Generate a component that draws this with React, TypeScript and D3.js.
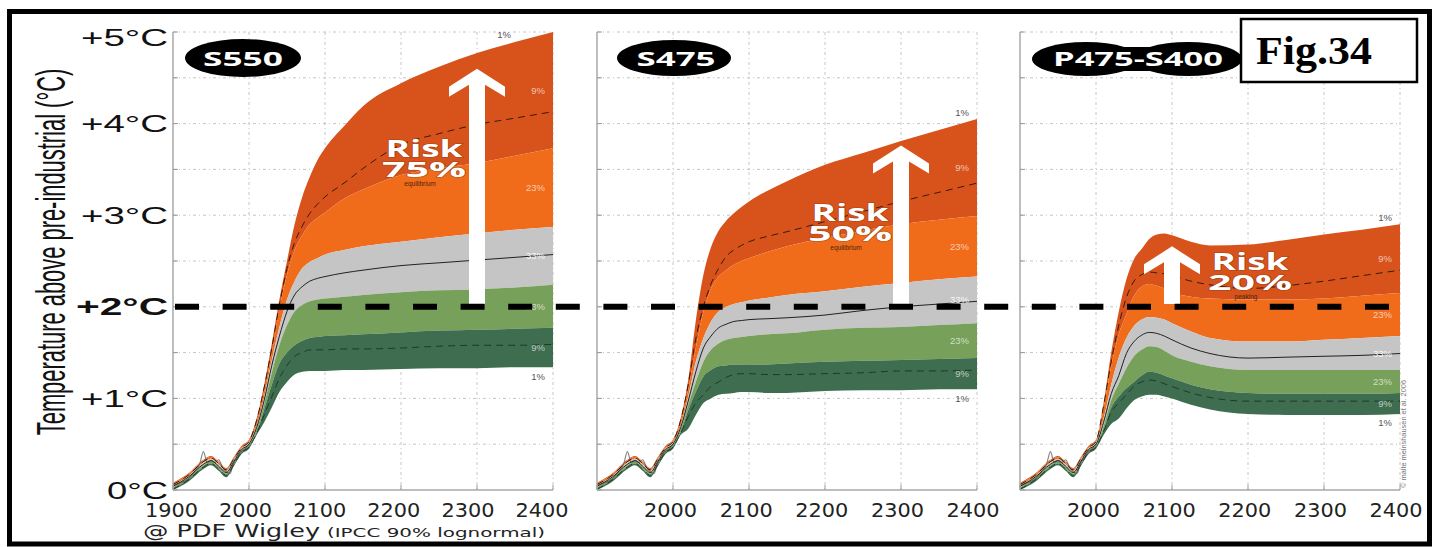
import React from "react";
import * as d3 from "d3";

// ---------- DATA ----------
const histYears = [1900, 1920, 1940, 1950, 1960, 1970, 1980, 1990, 2000];
const futureYears = [2010, 2020, 2030, 2040, 2050, 2060, 2070, 2080, 2090, 2100, 2125, 2150, 2200, 2250, 2300, 2350, 2400];
const years = [...histYears, ...futureYears];

// shared historical part of every boundary (°C)
const histTop = [0.08, 0.18, 0.33, 0.37, 0.31, 0.24, 0.36, 0.48, 0.55];
const histUpper = [0.07, 0.17, 0.32, 0.36, 0.30, 0.23, 0.35, 0.47, 0.54];
const histUpperDash = [0.06, 0.16, 0.31, 0.35, 0.29, 0.22, 0.34, 0.46, 0.53];
const histGrayTop = [0.05, 0.15, 0.30, 0.34, 0.28, 0.21, 0.33, 0.45, 0.52];
const histMedian = [0.04, 0.14, 0.28, 0.32, 0.26, 0.19, 0.31, 0.44, 0.50];
const histGrayBottom = [0.03, 0.13, 0.27, 0.31, 0.25, 0.18, 0.30, 0.43, 0.49];
const histLower = [0.02, 0.11, 0.25, 0.29, 0.23, 0.16, 0.28, 0.41, 0.48];
const histLowerDash = [0.01, 0.11, 0.25, 0.29, 0.23, 0.16, 0.28, 0.41, 0.47];
const histBottom = [0.0, 0.09, 0.23, 0.27, 0.21, 0.14, 0.26, 0.39, 0.45];

// observed record
const obsYears = [1900, 1910, 1920, 1930, 1935, 1940, 1945, 1950, 1955, 1960, 1965, 1970, 1975, 1980, 1985, 1990, 1995, 2000];
const obsTemp = [0.05, 0.08, 0.12, 0.22, 0.28, 0.42, 0.30, 0.32, 0.30, 0.33, 0.25, 0.20, 0.18, 0.30, 0.35, 0.42, 0.45, 0.50];

// S550
const s550Top = [0.78, 1.15, 1.6, 2.08, 2.5, 2.9, 3.2, 3.42, 3.6, 3.73, 3.97, 4.19, 4.44, 4.62, 4.77, 4.89, 5.0];
const s550Upper = [0.74, 1.08, 1.5, 1.98, 2.35, 2.62, 2.78, 2.9, 2.97, 3.03, 3.18, 3.28, 3.44, 3.51, 3.57, 3.65, 3.73];
const s550UpperDash = [0.76, 1.12, 1.55, 2.02, 2.42, 2.7, 2.88, 3.02, 3.12, 3.2, 3.35, 3.51, 3.77, 3.89, 3.99, 4.06, 4.13];
const s550GrayTop = [0.70, 1.02, 1.42, 1.78, 2.08, 2.28, 2.42, 2.49, 2.53, 2.57, 2.62, 2.66, 2.71, 2.76, 2.80, 2.84, 2.87];
const s550Median = [0.68, 0.98, 1.36, 1.68, 1.95, 2.13, 2.22, 2.28, 2.31, 2.33, 2.37, 2.40, 2.45, 2.48, 2.51, 2.54, 2.57];
const s550GrayBottom = [0.66, 0.94, 1.28, 1.58, 1.80, 1.95, 2.02, 2.06, 2.08, 2.09, 2.11, 2.13, 2.16, 2.18, 2.19, 2.21, 2.24];
const s550Lower = [0.63, 0.88, 1.15, 1.38, 1.50, 1.58, 1.63, 1.66, 1.67, 1.68, 1.69, 1.70, 1.72, 1.74, 1.75, 1.76, 1.77];
const s550LowerDash = [0.62, 0.82, 1.02, 1.22, 1.36, 1.46, 1.50, 1.53, 1.53, 1.53, 1.54, 1.54, 1.55, 1.57, 1.58, 1.58, 1.59];
const s550Bottom = [0.60, 0.74, 0.90, 1.07, 1.18, 1.26, 1.29, 1.30, 1.30, 1.30, 1.31, 1.31, 1.32, 1.33, 1.33, 1.34, 1.34];

// S475
const s475Top = [0.78, 1.2, 1.85, 2.35, 2.65, 2.83, 2.94, 3.02, 3.09, 3.15, 3.27, 3.37, 3.55, 3.68, 3.81, 3.93, 4.05];
const s475Upper = [0.74, 1.1, 1.55, 1.95, 2.2, 2.33, 2.4, 2.46, 2.5, 2.53, 2.6, 2.66, 2.75, 2.83, 2.9, 2.95, 2.99];
const s475UpperDash = [0.76, 1.15, 1.65, 2.0, 2.25, 2.42, 2.55, 2.62, 2.67, 2.71, 2.77, 2.82, 2.93, 3.04, 3.15, 3.25, 3.35];
const s475GrayTop = [0.70, 1.02, 1.40, 1.66, 1.84, 1.95, 2.00, 2.03, 2.05, 2.07, 2.10, 2.13, 2.17, 2.22, 2.26, 2.30, 2.33];
const s475Median = [0.68, 0.97, 1.29, 1.55, 1.68, 1.77, 1.81, 1.84, 1.85, 1.86, 1.87, 1.88, 1.91, 1.96, 2.00, 2.03, 2.06];
const s475GrayBottom = [0.66, 0.93, 1.18, 1.40, 1.53, 1.60, 1.64, 1.66, 1.67, 1.68, 1.70, 1.71, 1.75, 1.77, 1.78, 1.80, 1.82];
const s475Lower = [0.63, 0.87, 1.07, 1.24, 1.31, 1.35, 1.36, 1.37, 1.37, 1.37, 1.37, 1.38, 1.40, 1.41, 1.42, 1.43, 1.44];
const s475LowerDash = [0.62, 0.80, 0.95, 1.04, 1.13, 1.18, 1.23, 1.26, 1.27, 1.27, 1.26, 1.26, 1.27, 1.28, 1.30, 1.30, 1.31];
const s475Bottom = [0.60, 0.67, 0.82, 0.95, 1.00, 1.04, 1.05, 1.06, 1.07, 1.07, 1.06, 1.06, 1.08, 1.09, 1.09, 1.10, 1.10];

// P475-S400
const p475Top = [0.95, 1.5, 1.95, 2.3, 2.52, 2.63, 2.74, 2.79, 2.80, 2.78, 2.71, 2.67, 2.68, 2.73, 2.79, 2.84, 2.90];
const p475Upper = [0.9, 1.35, 1.7, 1.92, 2.12, 2.22, 2.25, 2.23, 2.2, 2.16, 2.11, 2.09, 2.08, 2.08, 2.09, 2.12, 2.15];
const p475UpperDash = [0.92, 1.4, 1.8, 2.1, 2.28, 2.35, 2.38, 2.37, 2.36, 2.34, 2.28, 2.24, 2.2, 2.23, 2.28, 2.34, 2.40];
const p475GrayTop = [0.78, 1.15, 1.45, 1.66, 1.79, 1.86, 1.89, 1.88, 1.86, 1.82, 1.73, 1.66, 1.62, 1.62, 1.64, 1.66, 1.68];
const p475Median = [0.74, 1.05, 1.25, 1.49, 1.62, 1.69, 1.72, 1.71, 1.68, 1.64, 1.55, 1.49, 1.44, 1.45, 1.46, 1.47, 1.49];
const p475GrayBottom = [0.70, 0.98, 1.16, 1.33, 1.46, 1.53, 1.57, 1.56, 1.52, 1.47, 1.40, 1.35, 1.31, 1.31, 1.31, 1.31, 1.31];
const p475Lower = [0.66, 0.90, 1.02, 1.11, 1.18, 1.25, 1.29, 1.28, 1.25, 1.22, 1.15, 1.10, 1.06, 1.05, 1.05, 1.05, 1.06];
const p475LowerDash = [0.64, 0.85, 0.95, 1.04, 1.13, 1.18, 1.20, 1.19, 1.16, 1.13, 1.06, 1.01, 0.97, 0.97, 0.97, 0.97, 0.97];
const p475Bottom = [0.60, 0.72, 0.78, 0.89, 0.98, 1.02, 1.04, 1.04, 1.02, 1.00, 0.93, 0.88, 0.83, 0.82, 0.82, 0.82, 0.83];

const scenarioNames = ["S550", "S475", "P475-S400"];
const riskValues = ["75%", "50%", "20%"];
const riskNotes = ["equilibrium", "equilibrium", "peaking"];
const arrowYears = [2300, 2300, 2100];
const arrowTips = [4.6, 3.76, 2.66];
const bandLabels = ["1%", "9%", "23%", "33%", "23%", "9%", "1%"];
const yTickValues = [0, 1, 2, 3, 4, 5];
const yTickLabels = ["0°C", "+1°C", "+2°C", "+3°C", "+4°C", "+5°C"];
const xTickValues = [1900, 2000, 2100, 2200, 2300, 2400];

// ---------- LAYOUT ----------
const W = 1437;
const H = 547;
const Y_TOP = 32;
const Y_BOT = 490;
const PW = 380;
const panelX0 = [173, 597, 1020];
const riskCenters = [424, 850, 1250];
const riskBase = [157, 221, 270];

const COL = {
  darkOrange: "#d8531c",
  orange: "#f06c1a",
  gray: "#c5c5c5",
  lightGreen: "#77a15a",
  darkGreen: "#3e6d4f",
};

const series = [
  [s550Top, s550Upper, s550UpperDash, s550GrayTop, s550Median, s550GrayBottom, s550Lower, s550LowerDash, s550Bottom],
  [s475Top, s475Upper, s475UpperDash, s475GrayTop, s475Median, s475GrayBottom, s475Lower, s475LowerDash, s475Bottom],
  [p475Top, p475Upper, p475UpperDash, p475GrayTop, p475Median, p475GrayBottom, p475Lower, p475LowerDash, p475Bottom],
];
const hist = [histTop, histUpper, histUpperDash, histGrayTop, histMedian, histGrayBottom, histLower, histLowerDash, histBottom];

const y = d3.scaleLinear().domain([0, 5]).range([Y_BOT, Y_TOP]);

function arrowPath(cx: number, tip: number, base: number) {
  const hw = 28, sw = 8;
  const pts: [number, number][] = [
    [cx, tip], [cx + hw, tip + 18], [cx + hw, tip + 28], [cx + sw, tip + 16], [cx + sw, base],
    [cx - sw, base], [cx - sw, tip + 16], [cx - hw, tip + 28], [cx - hw, tip + 18],
  ];
  return d3.line()(pts) + "Z";
}

function Panel({ idx }: { idx: number }) {
  const x0 = panelX0[idx];
  const x = d3.scaleLinear().domain([1900, 2400]).range([x0, x0 + PW]);
  const s = series[idx].map((f, i) => [...hist[i], ...f]);
  const [top, upper, upperDash, grayTop, median, grayBottom, lower, lowerDash, bottom] = s;
  const area = (hi: number[], lo: number[]) =>
    d3.area<number>().x((_, i) => x(years[i])).y0((_, i) => y(lo[i])).y1((d) => y(d)).curve(d3.curveMonotoneX)(hi) || "";
  const line = (arr: number[]) =>
    d3.line<number>().x((_, i) => x(years[i])).y((d) => y(d)).curve(d3.curveMonotoneX)(arr) || "";
  const obsLine = d3.line<number>().x((_, i) => x(obsYears[i])).y((d) => y(d)).curve(d3.curveMonotoneX)(obsTemp) || "";
  const bands: [number[], number[], string][] = [
    [top, upper, COL.darkOrange],
    [upper, grayTop, COL.orange],
    [grayTop, grayBottom, COL.gray],
    [grayBottom, lower, COL.lightGreen],
    [lower, bottom, COL.darkGreen],
  ];
  const L = years.length - 1;
  const x1 = x(2400);
  const labelX = x1 - 8;
  const mids = [
    (top[L] + upper[L]) / 2,
    (upper[L] + grayTop[L]) / 2,
    (grayTop[L] + grayBottom[L]) / 2,
    (grayBottom[L] + lower[L]) / 2,
    (lower[L] + bottom[L]) / 2,
  ];
  const gridY = d3.range(0.5, 5.01, 0.5);
  const gridX = [2000, 2100, 2200, 2300, 2400];
  const labelScale = idx === 0
    ? d3.scaleLinear().domain([1900, 2400]).range([x0 - 1.5, x0 + 369])
    : d3.scaleLinear().domain([1900, 2400]).range([x0 - 2, x0 + PW - 4]);
  const ax = x(arrowYears[idx]);
  const rc = riskCenters[idx];
  const rb = riskBase[idx];
  const outline = { stroke: "rgba(60,30,10,0.35)", strokeWidth: 1.2, paintOrder: "stroke" } as any;
  return (
    <g>
      {/* grid */}
      {gridY.map((v) => (
        <line key={"gy" + v} x1={x0} x2={x1} y1={y(v)} y2={y(v)} stroke="#c4c4c4" strokeWidth={1} strokeDasharray="3 3 1 3" />
      ))}
      {gridX.map((v) => (
        <line key={"gx" + v} x1={x(v)} x2={x(v)} y1={Y_TOP} y2={Y_BOT} stroke="#c4c4c4" strokeWidth={1} strokeDasharray="3 3 1 3" />
      ))}
      {/* bands */}
      {bands.map(([hi, lo, c], i) => (
        <path key={"b" + i} d={area(hi, lo)} fill={c} />
      ))}
      <path d={obsLine} fill="none" stroke="#555" strokeWidth={1.2} opacity={0.7} />
      <path d={line(upperDash)} fill="none" stroke="#3a1a0a" strokeWidth={1} strokeDasharray="7 5" />
      <path d={line(median)} fill="none" stroke="#222" strokeWidth={1} />
      <path d={line(lowerDash)} fill="none" stroke="#1f3a28" strokeWidth={1} strokeDasharray="7 5" />
      {/* band labels */}
      {mids.map((m, i) => (
        <text key={"bl" + i} x={labelX} y={y(m) + 3.5} textAnchor="end" fontSize={9.5}
          fontFamily="Liberation Sans, Arial, sans-serif" fill="#ffffff" fillOpacity={i === 2 ? 0.9 : 0.65}>
          {bandLabels[i + 1]}
        </text>
      ))}
      <text x={idx === 0 ? x1 - 42 : labelX} y={idx === 0 ? 38 : y(top[L]) - 3} textAnchor="end" fontSize={9.5}
        fontFamily="Liberation Sans, Arial, sans-serif" fill="#555">{bandLabels[0]}</text>
      <text x={labelX} y={y(bottom[L]) + 12.5} textAnchor="end" fontSize={9.5}
        fontFamily="Liberation Sans, Arial, sans-serif" fill="#555">{bandLabels[6]}</text>
      {/* axes */}
      <line x1={x0} x2={x0} y1={Y_TOP} y2={Y_BOT} stroke="#a8a8a8" strokeWidth={1.5} />
      <line x1={x0} x2={x1} y1={Y_BOT} y2={Y_BOT} stroke="#a8a8a8" strokeWidth={1.5} />
      {d3.range(0, 5.01, 0.5).map((v) => (
        <line key={"ty" + v} x1={x0} x2={x0 + 5} y1={y(v)} y2={y(v)} stroke="#999" strokeWidth={1} />
      ))}
      {xTickValues.map((v) => (
        <line key={"tx" + v} x1={x(v)} x2={x(v)} y1={Y_BOT} y2={Y_BOT - 5} stroke="#999" strokeWidth={1} />
      ))}
      {xTickValues.filter((v) => idx === 0 || v > 1900).map((v) => (
        <text key={"xl" + v} x={labelScale(v)} y={517} textAnchor="middle" fontSize={19}
          fontFamily="DejaVu Sans, Verdana, sans-serif" fill="#222" textLength={53} lengthAdjust="spacingAndGlyphs">
          {v}
        </text>
      ))}
      {/* arrow + risk */}
      <path d={arrowPath(ax, y(arrowTips[idx]), 304)} fill="#ffffff" />
      <text textAnchor="middle" fontFamily="Open Sans, DejaVu Sans, sans-serif" fontWeight={700}>
        <tspan x={rc} y={rb} fontSize={24} fill="#fff" style={outline} textLength={77} lengthAdjust="spacingAndGlyphs">Risk</tspan>
        <tspan x={rc} y={rb + 19.5} fontSize={22} fill="#fff" style={outline} textLength={84} lengthAdjust="spacingAndGlyphs">{riskValues[idx]}</tspan>
        <tspan x={rc - 4} y={rb + 29} fontSize={6.5} fontWeight={400} fill="#4a2410"
          fontFamily="Liberation Sans, Arial, sans-serif">{riskNotes[idx]}</tspan>
      </text>
    </g>
  );
}

export default function App() {
  const yLabelFont = "Liberation Sans, Arial, sans-serif";
  return (
    <svg width={W} height={H} viewBox={`0 0 ${W} ${H}`}
      style={{ position: "absolute", left: 0, top: 0, display: "block", background: "#fff" }}>
      <rect x={0} y={0} width={W} height={H} fill="#fff" />
      {[0, 1, 2].map((i) => <Panel key={i} idx={i} />)}

      {/* +2°C threshold */}
      <line x1={175} x2={1390} y1={y(2)} y2={y(2)} stroke="#000" strokeWidth={6} strokeDasharray="24 23.6" />

      {/* y tick labels */}
      {yTickValues.map((v, i) => (
        <text key={"yl" + v} x={168} y={Math.max(y(v) + 8.5, 46)} textAnchor="end"
          fontSize={24} fontWeight={v === 2 ? 700 : 400} fontFamily={yLabelFont} fill="#111"
          textLength={yTickLabels[i].length === 4 ? (v === 2 ? 92 : 87) : 61} lengthAdjust="spacingAndGlyphs">
          {yTickLabels[i]}
        </text>
      ))}
      <text transform="translate(65,252) rotate(-90) scale(0.5475,1)" textAnchor="middle" fontSize={40}
        fontFamily={yLabelFont} fill="#111">
        Temperature above pre-industrial (°C)
      </text>

      {/* scenario pills */}
      <ellipse cx={243} cy={58} rx={58} ry={19} fill="#000" />
      <text x={243} y={65.5} textAnchor="middle" fontSize={20} fontWeight={700} fill="#fff"
        fontFamily="Open Sans, DejaVu Sans, sans-serif" textLength={80} lengthAdjust="spacingAndGlyphs">{scenarioNames[0]}</text>
      <ellipse cx={674} cy={58} rx={57} ry={18} fill="#000" />
      <text x={676} y={65.5} textAnchor="middle" fontSize={20} fontWeight={700} fill="#fff"
        fontFamily="Open Sans, DejaVu Sans, sans-serif" textLength={79} lengthAdjust="spacingAndGlyphs">{scenarioNames[1]}</text>
      <ellipse cx={1086} cy={59} rx={54} ry={17} fill="#000" />
      <ellipse cx={1188} cy={59} rx={54} ry={17} fill="#000" />
      <rect x={1120} y={47} width={40} height={24} fill="#000" />
      <text x={1138} y={66} textAnchor="middle" fontSize={20} fontWeight={700} fill="#fff"
        fontFamily="Open Sans, DejaVu Sans, sans-serif" textLength={170} lengthAdjust="spacingAndGlyphs">{scenarioNames[2]}</text>

      {/* Fig box */}
      <rect x={1241} y={19} width={176} height={63} fill="#fff" stroke="#000" strokeWidth={2.5} />
      <text x={1256} y={64} fontSize={40} fontWeight={700} fontFamily="Liberation Serif, Times New Roman, serif"
        fill="#000" textLength={116} lengthAdjust="spacingAndGlyphs">Fig.34</text>

      {/* source notes */}
      <text x={143} y={537} fontSize={17} fontFamily="DejaVu Sans, Verdana, sans-serif" fill="#222"
        textLength={177} lengthAdjust="spacingAndGlyphs">@ PDF Wigley</text>
      <text x={327} y={537} fontSize={12.5} fontFamily="DejaVu Sans, Verdana, sans-serif" fill="#222"
        textLength={218} lengthAdjust="spacingAndGlyphs">(IPCC 90% lognormal)</text>
      <text transform="translate(1406,488) rotate(-90)" fontSize={6.5} fontFamily="Liberation Sans, Arial, sans-serif"
        fill="#777" textLength={108} lengthAdjust="spacingAndGlyphs">© malte meinshausen et al. 2006</text>

      {/* outer frame */}
      <rect x={9.5} y={11.5} width={1420} height={532.5} fill="none" stroke="#000" strokeWidth={5} />
    </svg>
  );
}
